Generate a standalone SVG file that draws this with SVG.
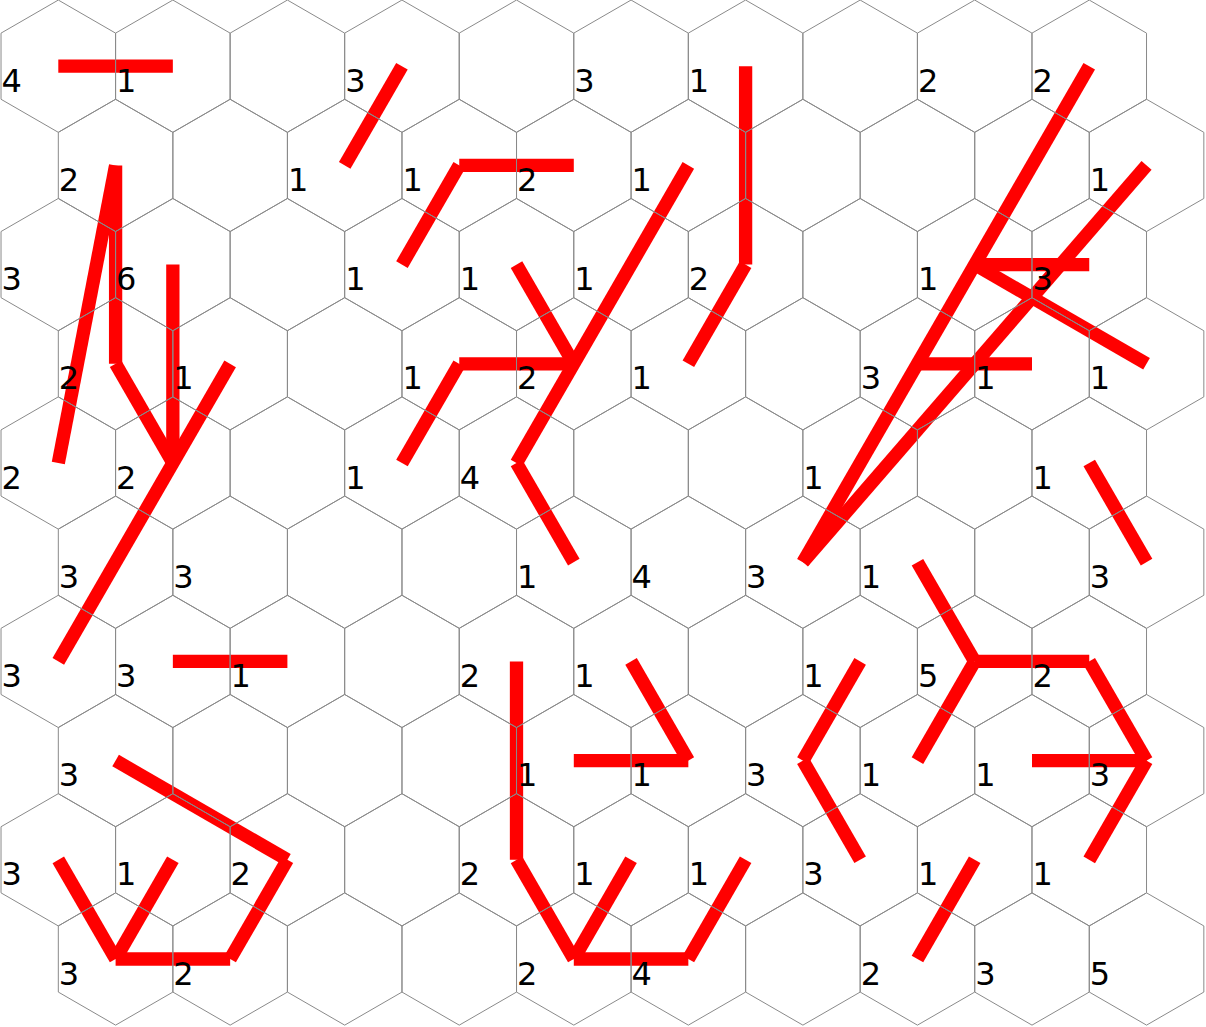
<svg xmlns="http://www.w3.org/2000/svg" xmlns:xlink="http://www.w3.org/1999/xlink" width="1206" height="1027" viewBox="0 0 1206 1027">
<style>
.seg{stroke:#ff0000;stroke-width:13.3;stroke-linecap:butt;fill:none}
.cell{fill:none;stroke:#8a8a8a;stroke-width:1}
.num{font-family:"DejaVu Sans","Liberation Sans",sans-serif;font-size:32px;fill:#000}
</style>
<defs>
<polygon id="hex" class="cell" points="0,-66.14 57.28,-33.07 57.28,33.07 0,66.14 -57.28,33.07 -57.28,-33.07"/>
<g id="row">
<use href="#hex" x="0"/><use href="#hex" x="114.55"/><use href="#hex" x="229.1"/><use href="#hex" x="343.65"/><use href="#hex" x="458.2"/><use href="#hex" x="572.75"/><use href="#hex" x="687.3"/><use href="#hex" x="801.85"/><use href="#hex" x="916.4"/><use href="#hex" x="1030.95"/>
</g>
</defs>
<rect width="1206" height="1027" fill="#ffffff"/>
<g id="connectors">
<line class="seg" x1="58.3" y1="66.2" x2="172.85" y2="66.2"/>
<line class="seg" x1="344.7" y1="165.4" x2="401.95" y2="66.2"/>
<line class="seg" x1="401.95" y1="264.6" x2="459.25" y2="165.4"/>
<line class="seg" x1="459.25" y1="165.4" x2="573.8" y2="165.4"/>
<line class="seg" x1="745.6" y1="66.2" x2="745.6" y2="264.6"/>
<line class="seg" x1="745.6" y1="264.6" x2="688.35" y2="363.8"/>
<line class="seg" x1="688.35" y1="165.4" x2="516.5" y2="463"/>
<line class="seg" x1="516.5" y1="463" x2="573.8" y2="562.2"/>
<line class="seg" x1="516.5" y1="264.6" x2="573.8" y2="363.8"/>
<line class="seg" x1="459.25" y1="363.8" x2="573.8" y2="363.8"/>
<line class="seg" x1="401.95" y1="463" x2="459.25" y2="363.8"/>
<line class="seg" x1="115.6" y1="165.4" x2="115.6" y2="363.8"/>
<line class="seg" x1="115.6" y1="363.8" x2="172.85" y2="463"/>
<line class="seg" x1="115.6" y1="165.4" x2="58.3" y2="463"/>
<line class="seg" x1="172.85" y1="264.6" x2="172.85" y2="463"/>
<line class="seg" x1="230.15" y1="363.8" x2="58.3" y2="661.4"/>
<line class="seg" x1="172.85" y1="661.4" x2="287.4" y2="661.4"/>
<line class="seg" x1="115.6" y1="760.6" x2="287.4" y2="859.8"/>
<line class="seg" x1="287.4" y1="859.8" x2="230.15" y2="959"/>
<line class="seg" x1="230.15" y1="959" x2="115.6" y2="959"/>
<line class="seg" x1="115.6" y1="959" x2="58.3" y2="859.8"/>
<line class="seg" x1="115.6" y1="959" x2="172.85" y2="859.8"/>
<line class="seg" x1="516.5" y1="661.4" x2="516.5" y2="859.8"/>
<line class="seg" x1="516.5" y1="859.8" x2="573.8" y2="959"/>
<line class="seg" x1="573.8" y1="959" x2="688.35" y2="959"/>
<line class="seg" x1="688.35" y1="959" x2="745.6" y2="859.8"/>
<line class="seg" x1="573.8" y1="959" x2="631.05" y2="859.8"/>
<line class="seg" x1="631.05" y1="661.4" x2="688.35" y2="760.6"/>
<line class="seg" x1="573.8" y1="760.6" x2="688.35" y2="760.6"/>
<line class="seg" x1="860.15" y1="661.4" x2="802.9" y2="760.6"/>
<line class="seg" x1="802.9" y1="760.6" x2="860.15" y2="859.8"/>
<line class="seg" x1="917.45" y1="562.2" x2="974.7" y2="661.4"/>
<line class="seg" x1="974.7" y1="661.4" x2="1089.25" y2="661.4"/>
<line class="seg" x1="1089.25" y1="661.4" x2="1146.55" y2="760.6"/>
<line class="seg" x1="1146.55" y1="760.6" x2="1089.25" y2="859.8"/>
<line class="seg" x1="974.7" y1="661.4" x2="917.45" y2="760.6"/>
<line class="seg" x1="1032" y1="760.6" x2="1146.55" y2="760.6"/>
<line class="seg" x1="917.45" y1="959" x2="974.7" y2="859.8"/>
<line class="seg" x1="1089.25" y1="463" x2="1146.55" y2="562.2"/>
<line class="seg" x1="1089.25" y1="66.2" x2="802.9" y2="562.2"/>
<line class="seg" x1="1146.55" y1="165.4" x2="802.9" y2="562.2"/>
<line class="seg" x1="974.7" y1="264.6" x2="1089.25" y2="264.6"/>
<line class="seg" x1="974.7" y1="264.6" x2="1146.55" y2="363.8"/>
<line class="seg" x1="917.45" y1="363.8" x2="1032" y2="363.8"/>
</g>
<g id="grid">
<use href="#row" transform="translate(58.3,66.2)"/>
<use href="#row" transform="translate(115.6,165.4)"/>
<use href="#row" transform="translate(58.3,264.6)"/>
<use href="#row" transform="translate(115.6,363.8)"/>
<use href="#row" transform="translate(58.3,463)"/>
<use href="#row" transform="translate(115.6,562.2)"/>
<use href="#row" transform="translate(58.3,661.4)"/>
<use href="#row" transform="translate(115.6,760.6)"/>
<use href="#row" transform="translate(58.3,859.8)"/>
<use href="#row" transform="translate(115.6,959)"/>
</g>
<g id="labels" class="num">
<text x="1.5" y="91.7">4</text><text x="116.05" y="91.7">1</text><text x="345.15" y="91.7">3</text><text x="574.25" y="91.7">3</text><text x="688.8" y="91.7">1</text><text x="917.9" y="91.7">2</text><text x="1032.45" y="91.7">2</text>
<text x="58.8" y="190.9">2</text><text x="287.9" y="190.9">1</text><text x="402.45" y="190.9">1</text><text x="517" y="190.9">2</text><text x="631.55" y="190.9">1</text><text x="1089.75" y="190.9">1</text>
<text x="1.5" y="290.1">3</text><text x="116.05" y="290.1">6</text><text x="345.15" y="290.1">1</text><text x="459.7" y="290.1">1</text><text x="574.25" y="290.1">1</text><text x="688.8" y="290.1">2</text><text x="917.9" y="290.1">1</text><text x="1032.45" y="290.1">3</text>
<text x="58.8" y="389.3">2</text><text x="173.35" y="389.3">1</text><text x="402.45" y="389.3">1</text><text x="517" y="389.3">2</text><text x="631.55" y="389.3">1</text><text x="860.65" y="389.3">3</text><text x="975.2" y="389.3">1</text><text x="1089.75" y="389.3">1</text>
<text x="1.5" y="488.5">2</text><text x="116.05" y="488.5">2</text><text x="345.15" y="488.5">1</text><text x="459.7" y="488.5">4</text><text x="803.35" y="488.5">1</text><text x="1032.45" y="488.5">1</text>
<text x="58.8" y="587.7">3</text><text x="173.35" y="587.7">3</text><text x="517" y="587.7">1</text><text x="631.55" y="587.7">4</text><text x="746.1" y="587.7">3</text><text x="860.65" y="587.7">1</text><text x="1089.75" y="587.7">3</text>
<text x="1.5" y="686.9">3</text><text x="116.05" y="686.9">3</text><text x="230.6" y="686.9">1</text><text x="459.7" y="686.9">2</text><text x="574.25" y="686.9">1</text><text x="803.35" y="686.9">1</text><text x="917.9" y="686.9">5</text><text x="1032.45" y="686.9">2</text>
<text x="58.8" y="786.1">3</text><text x="517" y="786.1">1</text><text x="631.55" y="786.1">1</text><text x="746.1" y="786.1">3</text><text x="860.65" y="786.1">1</text><text x="975.2" y="786.1">1</text><text x="1089.75" y="786.1">3</text>
<text x="1.5" y="885.3">3</text><text x="116.05" y="885.3">1</text><text x="230.6" y="885.3">2</text><text x="459.7" y="885.3">2</text><text x="574.25" y="885.3">1</text><text x="688.8" y="885.3">1</text><text x="803.35" y="885.3">3</text><text x="917.9" y="885.3">1</text><text x="1032.45" y="885.3">1</text>
<text x="58.8" y="984.5">3</text><text x="173.35" y="984.5">2</text><text x="517" y="984.5">2</text><text x="631.55" y="984.5">4</text><text x="860.65" y="984.5">2</text><text x="975.2" y="984.5">3</text><text x="1089.75" y="984.5">5</text>
</g>
</svg>
